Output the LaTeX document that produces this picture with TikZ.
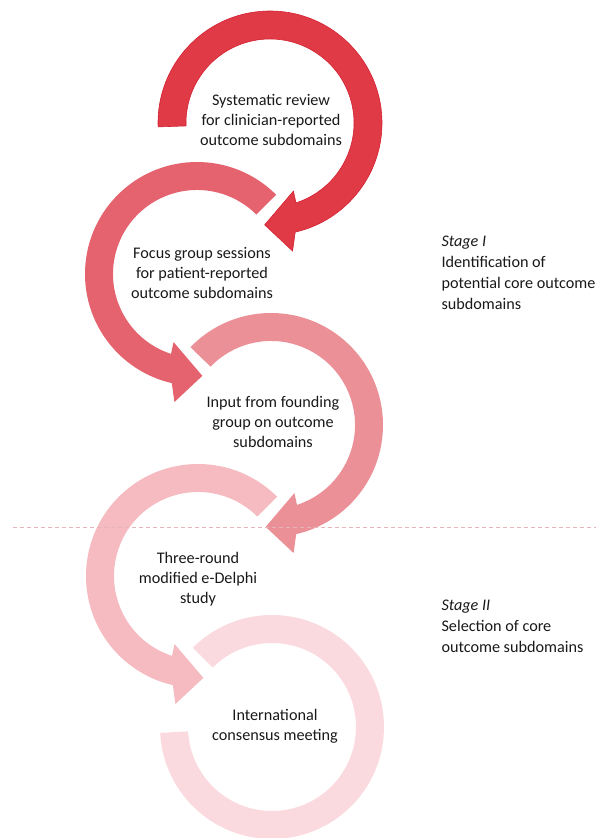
\documentclass[tikz,border=0pt]{standalone}
\usepackage{fontspec}
\setmainfont{Carlito}
\usetikzlibrary{calc}
\definecolor{cA}{HTML}{E03A47}
\definecolor{cAd}{HTML}{D42232}
\definecolor{cB}{HTML}{E4636E}
\definecolor{cC}{HTML}{EC9098}
\definecolor{cD}{HTML}{F5BBC0}
\definecolor{cE}{HTML}{FADADE}
\definecolor{dashc}{HTML}{E4B5B9}
\tikzset{
  lbl/.style={align=center, font=\fontsize{16.2}{20}\selectfont, text=black!90},
  stagelbl/.style={align=left, anchor=west, font=\fontsize{16.2}{21}\selectfont, text=black!90},
}
% right arrow: clockwise from #2 to bottom, center #1
\newcommand{\rarrow}[3]{%
  \fill[#3] ($#1+(#2:112)$) arc[start angle=#2, end angle=-77, radius=112]
    -- ($#1+(-80:130)$) -- ($#1+(-93:102)$) -- ($#1+(-71:72)$) -- ($#1+(-72:84)$)
    arc[start angle=-72, end angle=#2, radius=84] -- cycle;}
% left arrow: counterclockwise from #2 to bottom
\newcommand{\larrow}[3]{%
  \fill[#3] ($#1+(#2:112)$) arc[start angle=#2, end angle=257, radius=112]
    -- ($#1+(260:130)$) -- ($#1+(273:102)$) -- ($#1+(251:72)$) -- ($#1+(252:84)$)
    arc[start angle=252, end angle=#2, radius=84] -- cycle;}
\begin{document}
\begin{tikzpicture}[x=1pt,y=1pt]
\useasboundingbox (0,0) rectangle (596,838);
\coordinate (c1) at (270,715);
\coordinate (c2) at (197,564);
\coordinate (c3) at (271,413);
\coordinate (c4) at (198,262);
\coordinate (c5) at (272,111);
% arrow 5 (ring)
\fill[cE] ($(c5)+(135:112)$) arc[start angle=135, end angle=-177, radius=112]
  -- ($(c5)+(-177:84)$) arc[start angle=-177, end angle=135, radius=84] -- cycle;
\larrow{(c4)}{45}{cD}
\rarrow{(c3)}{136}{cC}
\larrow{(c2)}{45}{cB}
\rarrow{(c1)}{182}{cA, draw=cAd, line width=0.6pt}
% dashed separator
\coordinate (dl) at (13,311);
\coordinate (dr) at (596,311);
\draw[dashc, line width=0.8pt, dash pattern=on 4pt off 3pt] (dl) -- (dr);
% labels
\node[lbl] (t1) at (271,718) {Systematic review\\for clinician-reported\\outcome subdomains};
\node[lbl] (t2) at (202,565) {Focus group sessions\\for patient-reported\\outcome subdomains};
\node[lbl] (t3) at (273,416) {Input from founding\\group on outcome\\subdomains};
\node[lbl] (t4) at (198,259) {Three-round\\modified e-Delphi\\study};
\node[lbl] (t5) at (275,112) {International\\consensus meeting};
\node[stagelbl] (s1) at (438,565) {\textit{Stage I}\\Identification of\\potential core outcome\\subdomains};
\node[stagelbl] (s2) at (438,212) {\textit{Stage II}\\Selection of core\\outcome subdomains};
\end{tikzpicture}
\end{document}
